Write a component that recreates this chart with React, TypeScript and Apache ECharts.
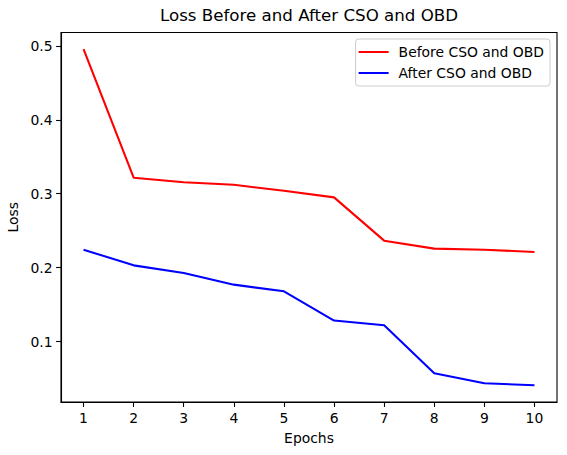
import React, { useEffect, useRef } from "react";
import * as echarts from "echarts";

const epochs = [1, 2, 3, 4, 5, 6, 7, 8, 9, 10];
const beforeLoss = [0.4955, 0.3216, 0.3155, 0.312, 0.304, 0.295, 0.2365, 0.2257, 0.2243, 0.2212];
const afterLoss = [0.2243, 0.2031, 0.1928, 0.177, 0.168, 0.1284, 0.122, 0.0572, 0.0436, 0.041];
const yTicks = [0.1, 0.2, 0.3, 0.4, 0.5];
const seriesNames = ["Before CSO and OBD", "After CSO and OBD"];

const FONT = "DejaVu Sans";

const App: React.FC = () => {
  const chartRef = useRef<HTMLDivElement>(null);

  useEffect(() => {
    if (!chartRef.current) return;
    const chart = echarts.init(chartRef.current, null, { renderer: "svg" });

    const axisText = { color: "#000", fontFamily: FONT, fontSize: 13.9 };

    chart.setOption({
      animation: false,
      backgroundColor: "#fff",
      title: {
        text: "Loss Before and After CSO and OBD",
        left: 309,
        top: 7,
        padding: 0,
        textAlign: "center",
        textStyle: { color: "#000", fontFamily: FONT, fontSize: 16.67, fontWeight: "normal" },
      },
      legend: {
        orient: "vertical",
        right: 17,
        top: 39,
        padding: [5, 6, 5, 3],
        itemGap: 5,
        itemWidth: 30,
        itemHeight: 2,
        icon: "rect",
        borderColor: "#cccccc",
        borderWidth: 1,
        borderRadius: 3,
        backgroundColor: "rgba(255,255,255,0.8)",
        textStyle: { ...axisText, lineHeight: 16, padding: [0, 0, 0, 5] },
        data: seriesNames,
      },
      grid: {
        left: 61,
        right: 10,
        top: 32.5,
        bottom: 53,
        containLabel: false,
        outerBoundsMode: "none",
        show: true,
        borderColor: "#000",
        borderWidth: 1.1,
      },
      xAxis: {
        type: "value",
        min: 0.55,
        max: 10.45,
        name: "Epochs",
        nameLocation: "middle",
        nameGap: 29,
        nameTextStyle: axisText,
        axisLine: { show: true, lineStyle: { color: "#000", width: 1.1 } },
        axisTick: { show: true, length: 4.9, lineStyle: { color: "#000", width: 1.1 }, customValues: epochs },
        axisLabel: { ...axisText, margin: 9, customValues: epochs },
        splitLine: { show: false },
      },
      yAxis: {
        type: "value",
        min: 0.0183,
        max: 0.518,
        name: "Loss",
        nameLocation: "middle",
        nameGap: 39,
        nameRotate: 90,
        nameTextStyle: axisText,
        axisLine: { show: true, lineStyle: { color: "#000", width: 1.1 } },
        axisTick: { show: true, length: 4.9, lineStyle: { color: "#000", width: 1.1 }, customValues: yTicks },
        axisLabel: { ...axisText, margin: 8.5, customValues: yTicks, formatter: (v: number) => v.toFixed(1) },
        splitLine: { show: false },
      },
      series: [
        {
          name: seriesNames[0],
          type: "line",
          data: epochs.map((e, i) => [e, beforeLoss[i]]),
          showSymbol: false,
          lineStyle: { color: "#ff0000", width: 2.08 },
          itemStyle: { color: "#ff0000" },
        },
        {
          name: seriesNames[1],
          type: "line",
          data: epochs.map((e, i) => [e, afterLoss[i]]),
          showSymbol: false,
          lineStyle: { color: "#0000ff", width: 2.08 },
          itemStyle: { color: "#0000ff" },
        },
      ],
    });

    return () => {
      chart.dispose();
    };
  }, []);

  return (
    <div
      ref={chartRef}
      style={{ position: "absolute", left: 0, top: 0, width: 567, height: 455 }}
    />
  );
};

export default App;
